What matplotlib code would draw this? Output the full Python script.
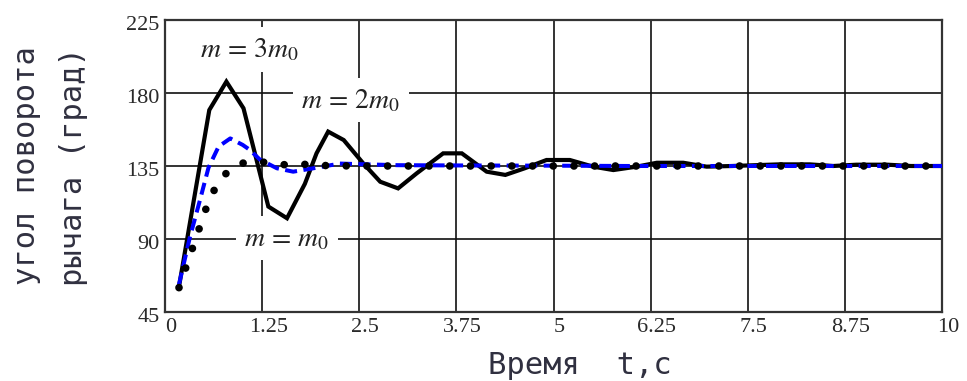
import matplotlib
matplotlib.use("Agg")
import matplotlib.pyplot as plt
import matplotlib.transforms as mtransforms

# --- data ---
# m = 3 m0 (solid black)
t_m3 = [0.18, 0.57, 0.79, 1.01, 1.33, 1.57, 1.80, 1.95, 2.10, 2.30, 2.55, 2.77,
        3.00, 3.24, 3.58, 3.82, 4.14, 4.38, 4.63, 4.91, 5.21, 5.51, 5.77, 6.07,
        6.33, 6.67, 6.97, 7.30, 7.90, 8.30, 8.60, 8.90, 9.30, 9.60, 10.0]
y_m3 = [60.6, 169.5, 187.0, 170.6, 110.0, 102.8, 124.0, 142.8, 156.2, 151.0, 136.7, 125.3,
        121.2, 130.5, 142.8, 142.8, 131.5, 129.5, 133.6, 138.7, 138.7, 134.6, 132.5, 134.6,
        137.0, 137.0, 134.6, 135.0, 136.0, 136.0, 135.0, 135.8, 135.8, 135.0, 135.0]

# m = 2 m0 (blue dashed)
t_m2 = [0.18, 0.32, 0.45, 0.56, 0.69, 0.84, 1.00, 1.09, 1.22, 1.44, 1.65, 1.91,
        2.25, 2.60, 3.00, 4.00, 5.00, 6.00, 7.00, 8.00, 9.00, 10.0]
y_m2 = [62.0, 91.0, 114.0, 134.0, 147.0, 152.0, 148.0, 145.0, 139.0, 133.6, 131.5, 133.6,
        136.5, 136.0, 135.5, 135.3, 135.2, 135.0, 135.0, 135.0, 135.0, 135.0]

# m = m0 (black dots)
t_m1 = [0.18, 0.58, 0.75, 0.95, 1.20, 1.50, 1.80, 2.10, 2.50, 4.00, 6.00, 8.00, 10.0]
y_m1 = [60.0, 116.0, 129.0, 136.5, 137.8, 135.8, 136.0, 135.2, 135.0, 135.0, 135.0, 135.0, 135.0]

x_ticks = [0, 1.25, 2.5, 3.75, 5, 6.25, 7.5, 8.75, 10]
x_tick_labels = ["0", "1.25", "2.5", "3.75", "5", "6.25", "7.5", "8.75", "10"]
y_ticks = [45, 90, 135, 180, 225]

labels = [r"$m\,=\,3m_0$", r"$m\,=\,2m_0$", r"$m\,=\,m_0$"]
label_t = [1.09, 2.39, 1.57]
label_y = [207.0, 175.7, 90.6]

plt.rcParams["mathtext.fontset"] = "stix"

fig = plt.figure(figsize=(9.67, 3.81), dpi=100)
ax = fig.add_axes([165 / 967, 69 / 381, 777 / 967, 292 / 381])

ax.plot(t_m3, y_m3, color="black", lw=3.0, solid_joinstyle="miter", zorder=3)
ax.plot(t_m2, y_m2, color="#0000ff", lw=2.9, dashes=(3, 1.6), zorder=4)
ax.plot(t_m1, y_m1, color="black", lw=5.5, dashes=(0.01, 2.7),
        dash_capstyle="round", zorder=5)

ax.set_xlim(0, 10)
ax.set_ylim(45, 225)
ax.set_xticks(x_ticks)
ax.set_xticklabels(x_tick_labels)
ax.set_yticks(y_ticks)
ax.grid(True, color="#111111", lw=1.2)
ax.set_axisbelow(True)
ax.tick_params(length=0, labelsize=16, colors="#2a2a2a", pad=4)
for lab in ax.get_xticklabels() + ax.get_yticklabels():
    lab.set_fontfamily("Liberation Serif")

# Mathcad puts its labels a bit off the ticks
dx = mtransforms.ScaledTranslation(6 / 100, 0, fig.dpi_scale_trans)
dy = mtransforms.ScaledTranslation(0, -3 / 100, fig.dpi_scale_trans)
for lab in ax.get_xticklabels():
    lab.set_transform(lab.get_transform() + dx)
for lab in ax.get_yticklabels():
    lab.set_transform(lab.get_transform() + dy)

for s in ax.spines.values():
    s.set_color("#333333")
    s.set_linewidth(1.6)

for txt, tx, ty in zip(labels, label_t, label_y):
    ax.text(tx, ty, txt, fontsize=20, color="#222222", ha="center", va="center",
            zorder=2, bbox=dict(boxstyle="square,pad=0.3", fc="white", ec="none"))

mono = "DejaVu Sans Mono"
fig.text(27 / 967, 1 - 166 / 381, "угол поворота", rotation=90, fontsize=22,
         family=mono, color="#303040", ha="center", va="center")
fig.text(74 / 967, 1 - 167 / 381, "рычага (град)", rotation=90, fontsize=22,
         family=mono, color="#303040", ha="center", va="center")
fig.text(580 / 967, 1 - 366 / 381, "Время  t,c", fontsize=22,
         family=mono, color="#303040", ha="center", va="center")

fig.savefig("out.png", dpi=100)
